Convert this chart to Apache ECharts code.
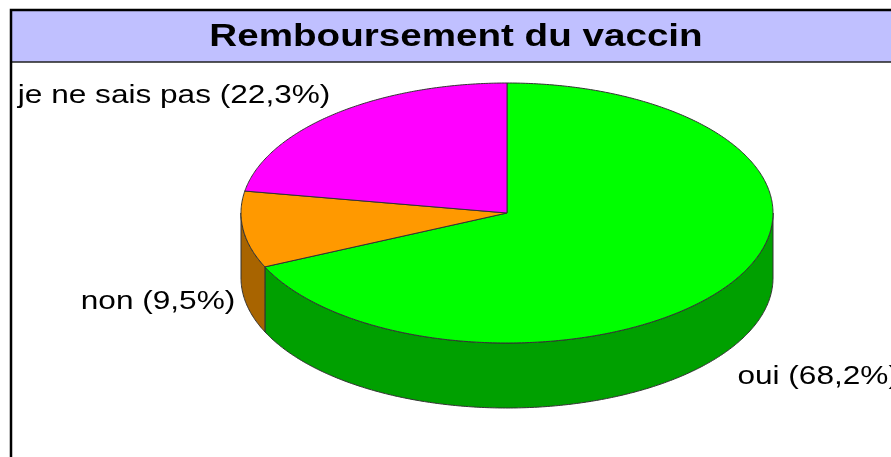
<!DOCTYPE html>
<html>
<head>
<meta charset="utf-8">
<script src="https://cdn.jsdelivr.net/npm/echarts@6/dist/echarts.min.js"></script>
<style>
  html, body { margin: 0; padding: 0; background: #fff; }
  #chart { width: 891px; height: 457px; }
</style>
</head>
<body>
<div id="chart"></div>
<script>
  const titleText = 'Remboursement du vaccin';
  const categories = ['oui', 'non', 'je ne sais pas'];
  const values = [68.2, 9.5, 22.3];
  const labelTexts = ['oui (68,2%)', 'non (9,5%)', 'je ne sais pas (22,3%)'];
  const topColors = ['#00ff00', '#ff9900', '#ff00ff'];
  const sideColors = ['#00a000', '#a86400', '#a000a0'];

  // pie layout (tilted ellipse + depth)
  const cx = 507, cy = 213, rx = 266, ry = 130, depth = 65;
  const labelRadius = 1.03;
  const labelOffsetY = [91, 72, -15];
  // the original font is drawn a bit wider than Arial
  const textStretch = 1.215;

  const total = values.reduce((a, b) => a + b, 0);
  const starts = [];
  let acc = 0;
  values.forEach((v) => { starts.push(acc); acc += v; });

  // angle clockwise from 12 o'clock, in radians
  function pt(a, dy) {
    return [cx + rx * Math.sin(a), cy - ry * Math.cos(a) + (dy || 0)];
  }
  function arc(a0, a1, dy) {
    const pts = [];
    const n = Math.max(2, Math.ceil(Math.abs(a1 - a0) / 0.01));
    for (let k = 0; k <= n; k++) pts.push(pt(a0 + (a1 - a0) * k / n, dy));
    return pts;
  }

  const myChart = echarts.init(document.getElementById('chart'));

  const option = {
    animation: false,
    graphic: [
      { type: 'rect', shape: { x: 12, y: 11, width: 900, height: 51 },
        style: { fill: '#c0c0ff', stroke: null }, z: 1 },
      { type: 'line', shape: { x1: 12, y1: 62, x2: 900, y2: 62 },
        style: { stroke: '#202020', lineWidth: 1.5 }, z: 2 },
      { type: 'rect', shape: { x: 11, y: 10, width: 1000, height: 1000 },
        style: { fill: null, stroke: '#000', lineWidth: 2.5 }, z: 3 },
      { type: 'text', x: 456, y: 37, z: 4, scaleX: 1.245,
        style: { text: titleText, fill: '#000', font: 'bold 31px "Liberation Sans", Arial, sans-serif',
          align: 'center', verticalAlign: 'middle' } }
    ],
    series: [{
      type: 'custom',
      coordinateSystem: 'none',
      data: values.map((v, i) => [v, starts[i], i]),
      renderItem: function (params, api) {
        const i = api.value(2);
        const a0 = api.value(1) / total * Math.PI * 2;
        const a1 = a0 + api.value(0) / total * Math.PI * 2;
        const children = [];
        // front side wall (visible between 90deg and 270deg)
        const s0 = Math.max(a0, Math.PI / 2), s1 = Math.min(a1, Math.PI * 1.5);
        if (s1 > s0) {
          const topArc = arc(s0, s1, 0);
          const botArc = arc(s1, s0, depth);
          children.push({
            type: 'polygon', z2: 1,
            shape: { points: topArc.concat(botArc) },
            style: { fill: sideColors[i], stroke: '#333', lineWidth: 1 }
          });
        }
        // top face
        children.push({
          type: 'polygon', z2: 10,
          shape: { points: [[cx, cy]].concat(arc(a0, a1, 0)) },
          style: { fill: topColors[i], stroke: '#333', lineWidth: 1 }
        });
        // label
        const m = (a0 + a1) / 2;
        const lx = cx + rx * labelRadius * Math.sin(m);
        const ly = cy - ry * labelRadius * Math.cos(m) + labelOffsetY[i];
        children.push({
          type: 'text', z2: 20, x: lx, y: ly, scaleX: textStretch,
          style: { text: labelTexts[i], fill: '#000',
            font: '26px "Liberation Sans", Arial, sans-serif',
            align: Math.sin(m) >= 0 ? 'left' : 'right', verticalAlign: 'middle' }
        });
        return { type: 'group', children: children };
      }
    }]
  };
  myChart.setOption(option);
</script>
</body>
</html>
